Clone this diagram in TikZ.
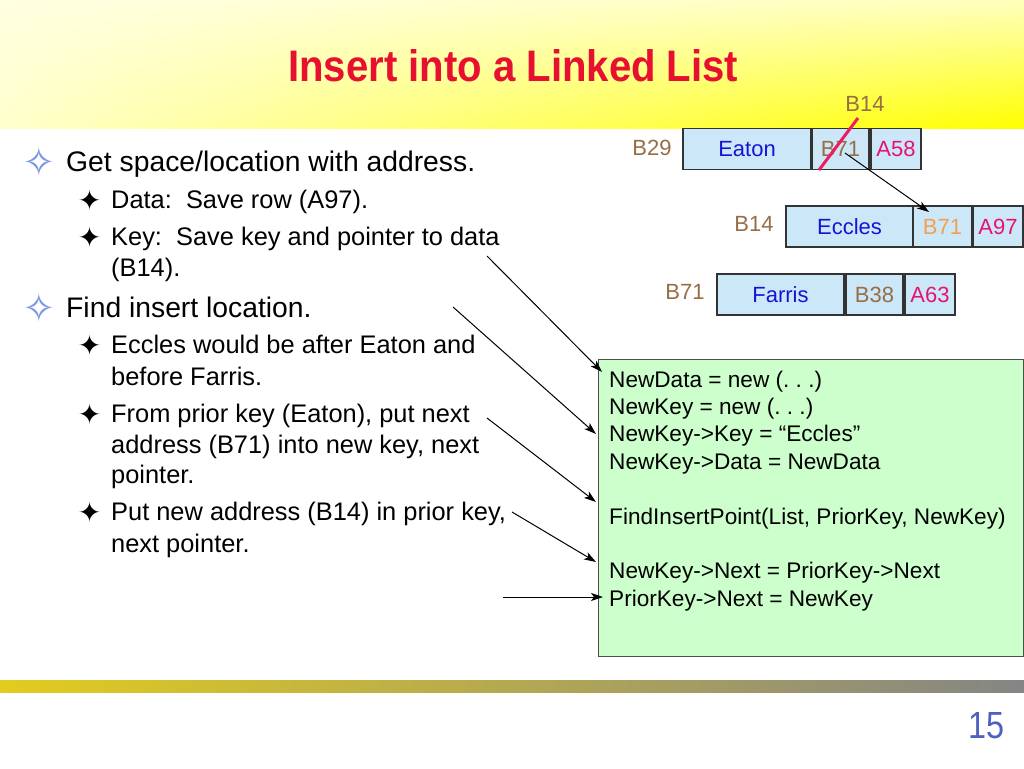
\documentclass[tikz,border=0pt]{standalone}
\usepackage{fontspec}
\setmainfont{Liberation Sans}
\newfontfamily\symfont{DejaVu Sans}
\usetikzlibrary{arrows.meta,calc,shadings}

\definecolor{titlered}{RGB}{232,16,48}
\definecolor{pagenum}{RGB}{80,96,192}
\definecolor{bulletblue}{RGB}{120,150,225}
\definecolor{cellfill}{RGB}{204,232,248}
\definecolor{codefill}{RGB}{204,255,204}
\definecolor{addrbrown}{RGB}{150,110,70}
\definecolor{namblue}{RGB}{20,20,215}
\definecolor{datamag}{RGB}{230,20,110}
\definecolor{neworange}{RGB}{240,160,80}
\definecolor{strikered}{RGB}{235,30,100}
\definecolor{hdrUL}{RGB}{255,255,225}
\definecolor{hdrUR}{RGB}{255,255,190}
\definecolor{hdrLL}{RGB}{255,255,205}
\definecolor{hdrLR}{RGB}{255,255,0}
\definecolor{ftrL}{RGB}{226,204,30}
\definecolor{ftrR}{RGB}{133,133,133}

\begin{document}
\begin{tikzpicture}[x=1pt,y=-1pt,
  lvlone/.style={anchor=base west, inner sep=0pt, font=\fontsize{28.3}{30}\selectfont},
  lvltwo/.style={anchor=base west, inner sep=0pt, font=\fontsize{25.4}{27}\selectfont},
  bulone/.style={inner sep=0pt, text=bulletblue, font=\symfont\fontsize{40}{40}\selectfont},
  bultwo/.style={inner sep=0pt, text=black, font=\symfont\fontsize{28}{28}\selectfont},
  cell/.style={draw=black!80, line width=1.3pt, fill=cellfill, inner sep=0pt,
     minimum height=41pt, font=\fontsize{22}{22}\selectfont},
  addr/.style={inner sep=0pt, text=addrbrown, font=\fontsize{22}{22}\selectfont},
  code/.style={anchor=base west, inner sep=0pt, font=\fontsize{22.6}{24}\selectfont},
  ptr/.style={black, line width=1pt, -{Stealth[length=12pt,width=8pt,inset=3pt]}}
]
\useasboundingbox (0,0) rectangle (1024,768);
\fill[white] (0,0) rectangle (1024,768);

% header band
\shade[upper left=hdrUL, upper right=hdrUR, lower left=hdrLL, lower right=hdrLR]
  (0,0) rectangle (1024,128);
% footer band
\shade[left color=ftrL, right color=ftrR]
  (0,680) rectangle (1024,692);

% title
\node[anchor=south west, inner sep=0pt, text=titlered] (title) at (288,82)
  {\resizebox{450pt}{32pt}{\bfseries Insert into a Linked List}};
% page number
\node[anchor=south west, inner sep=0pt, text=pagenum] (pnum) at (968,739)
  {\resizebox{36pt}{26pt}{15}};

% bullets
\node[bulone] (b1) at (39,162) {✧};
\node[bulone] (b2) at (39,308) {✧};
\node[bultwo] (s1) at (89.5,200) {✦};
\node[bultwo] (s2) at (89.5,237) {✦};
\node[bultwo] (s3) at (89.5,345) {✦};
\node[bultwo] (s4) at (89.5,414) {✦};
\node[bultwo] (s5) at (89.5,512) {✦};

\node[lvlone] (t1) at (66,171) {Get space/location with address.};
\node[lvltwo] (t2) at (111,208) {Data:\ \ Save row (A97).};
\node[lvltwo] (t3) at (111,245) {Key:\ \ Save key and pointer to data};
\node[lvltwo] (t4) at (111,276) {(B14).};
\node[lvlone] (t5) at (66,317) {Find insert location.};
\node[lvltwo] (t6) at (111,353) {Eccles would be after Eaton and};
\node[lvltwo] (t7) at (111,385) {before Farris.};
\node[lvltwo] (t8) at (111,422) {From prior key (Eaton), put next};
\node[lvltwo] (t9) at (111,453) {address (B71) into new key, next};
\node[lvltwo] (t10) at (111,483) {pointer.};
\node[lvltwo] (t11) at (111,520) {Put new address (B14) in prior key,};
\node[lvltwo] (t12) at (111,552) {next pointer.};

% linked list rows
\node[cell, minimum width=128pt, text=namblue] (eaton) at (747,149) {Eaton};
\node[cell, minimum width=57pt, text=addrbrown] (eb) at (840.5,149) {B71};
\node[cell, minimum width=50pt, text=datamag] (ea) at (896,149) {A58};

\node[cell, minimum width=127pt, text=namblue] (eccles) at (849.5,226.5) {Eccles};
\node[cell, minimum width=59pt, text=neworange] (cb) at (942.5,226.5) {B71};
\node[cell, minimum width=50pt, text=datamag] (ca) at (998,226.5) {A97};

\node[cell, minimum width=127pt, text=namblue] (farris) at (780.5,294.5) {Farris};
\node[cell, minimum width=57pt, text=addrbrown] (fb) at (874.5,294.5) {B38};
\node[cell, minimum width=50pt, text=datamag] (fa) at (930,294.5) {A63};

\node[addr] (l29) at (652,148) {B29};
\node[addr] (l14) at (754,224) {B14};
\node[addr] (l71) at (685,292) {B71};
\node[addr] (ltop) at (865,104) {B14};

% strike-through of old pointer
\coordinate (strA) at (858,118);
\coordinate (strB) at (819,170);
\draw[strikered, line width=3pt] (strA) -- (strB);

% pointer from Eaton's next to Eccles' next
\coordinate (pA) at (845,153);
\coordinate (pB) at (929,212);
\draw[ptr] (pA) -- (pB);

% code box
\node[draw=black!70, line width=1.3pt, fill=codefill, inner sep=0pt,
      minimum width=425pt, minimum height=297pt, anchor=north west] (codebox) at (598,359) {};
\node[code] (c1) at (609,387) {NewData = new (.~.~.)};
\node[code] (c2) at (609,414) {NewKey = new (.~.~.)};
\node[code] (c3) at (609,441) {NewKey->Key = “Eccles”};
\node[code] (c4) at (609,469) {NewKey->Data = NewData};
\node[code] (c5) at (609,524) {FindInsertPoint(List, PriorKey, NewKey)};
\node[code] (c6) at (609,578) {NewKey->Next = PriorKey->Next};
\node[code] (c7) at (609,606) {PriorKey->Next = NewKey};

% arrows from text to code
\coordinate (a1s) at (487,256);
\coordinate (a1e) at (602,372);
\coordinate (a2s) at (453,307);
\coordinate (a2e) at (596,434);
\coordinate (a3s) at (487,418);
\coordinate (a3e) at (596,502);
\coordinate (a4s) at (512,512);
\coordinate (a4e) at (596,562);
\coordinate (a5s) at (503,597);
\coordinate (a5e) at (603,597);
\draw[ptr] (a1s) -- (a1e);
\draw[ptr] (a2s) -- (a2e);
\draw[ptr] (a3s) -- (a3e);
\draw[ptr] (a4s) -- (a4e);
\draw[ptr] (a5s) -- (a5e);
\end{tikzpicture}
\end{document}
